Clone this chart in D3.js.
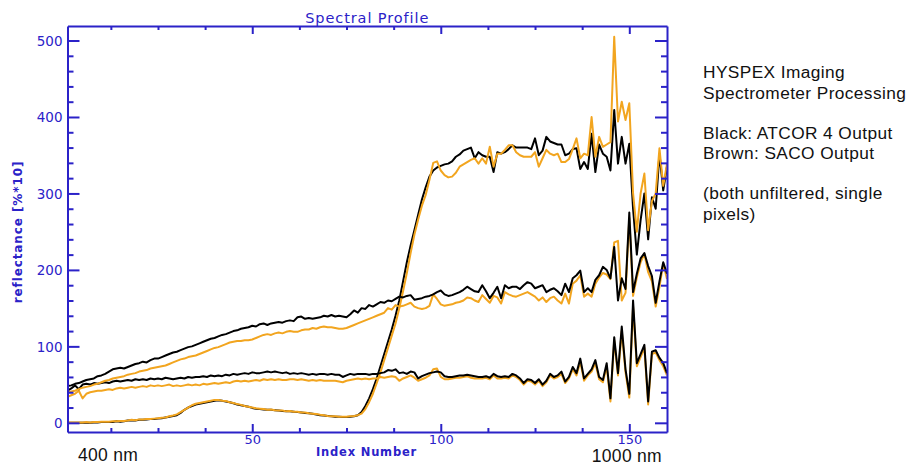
<!DOCTYPE html>
<html><head><meta charset="utf-8">
<script src="https://cdn.jsdelivr.net/npm/d3@7"></script>
<style>
html,body{margin:0;padding:0;background:#fff;}
svg{display:block;}
</style></head>
<body>
<svg id="c" width="916" height="466"></svg>
<script>
// Index numbers 1..160
const indexNumbers = d3.range(1, 161);

// Vegetation-like pixel (red edge)
const vegBlack = [
0,0,0,0,0,0,0,0.5,0.5,1,
1,1,1,2,1.5,2,3,3.5,3,4,
4,4.5,5,5,5.5,6,7,8,9,10,
13,17,20,22,24,25,26,27,28,29,
29.5,29,28,27,25.5,24,23,22,21,19.5,
18.5,18,17.5,17,17,16.5,16,15.5,15,15,
14.5,14,13.5,13,12.5,12,11,10,9.5,9,
8.5,8,8,7.5,7.5,8,8.5,10,14,22,
32,44,58,74,90,106,122,140,160,185,
210,232,252,272,292,308,322,330,334,336,
338,339,342,348,351,356,358,360,346,354,
350,348,348,328,354,352,354,358,363,360,
360,360,360,358,372,350,356,374,368,366,
364,364,350,352,358,359,332,341,332,378,
328,364,352,348,330,409,339,374,339,365,
280,220,265,300,240,295,280,352,304,335];
const vegOrange = [
0.5,0.5,0.5,0.5,0.5,1,0.5,1,1,1.5,
1.5,1.5,2,2,2.5,2.5,3,4,3.5,4.5,
4.5,5,5,5.5,6,6.5,7,8.5,9.5,11,
14,17,20,23,25,26,27,28,29,30,
30,29,28.5,27,26,24.5,23.5,22,21,20,
19,18.5,18,17,17.5,16.5,16,16,15,15.5,
14.5,14.5,13.5,13.5,12.5,12,11.5,10.5,10,9,
8.5,8.5,8,8,8,8.5,9,10,12,18,
27,38,52,66,82,98,114,130,150,172,
196,222,246,266,284,298,318,340,342,330,
324,321,322,327,335,338,341,344,346,339,
346,339,361,335,352,352,357,363,363,354,
350,348,348,348,354,335,346,357,352,350,
352,341,341,345,358,372,346,352,350,400,
348,374,361,364,367,505,394,420,396,418,
300,250,300,326,252,290,300,359,310,339];

// Upper smooth pixel
const upperBlack = [
48,49,51,52,54,56,57,58,61,62,
64,67,70,71,72,71,73,75,77,78,
80,79,82,84,84,86,88,90,92,93,
95,97,99,100,102,104,106,108,110,111,
113,115,116,118,120,121,123,124,125,127,
126,129,130,128,130,131,132,131,133,134,
133,138,139,136,137,136,137,138,140,139,
141,139,140,139,138,142,147,144,150,149,
154,152,155,158,157,160,159,162,165,164,
166,167,161,162,163,165,166,168,171,173,
168,166,167,169,171,174,178,175,172,171,
180,172,163,170,178,163,180,176,178,178,
175,180,184,182,176,178,180,171,174,176,
172,167,182,171,189,193,199,171,176,171,
187,193,204,200,189,230,160,189,175,275,
171,195,215,222,205,192,157,185,210,195];
const upperOrange = [
40,41,42,44,46,47,48,50,51,53,
55,56,58,59,60,61,63,64,65,67,
68,69,71,72,73,74,75,77,79,81,
83,84,86,87,88,90,92,94,96,98,
99,101,103,105,106,107,107,108,108,109,
111,113,115,116,115,117,118,117,119,120,
119,119,121,122,122,124,123,125,126,125,
125,124,123,123,124,126,128,130,132,134,
136,138,140,142,144,150,148,154,152,153,
155,157,152,150,149,150,153,168,162,155,
153,154,155,157,158,160,164,163,160,158,
167,162,157,166,164,156,171,168,166,165,
167,169,171,168,165,160,164,158,163,165,
160,156,169,156,182,186,193,165,169,165,
182,190,196,194,188,236,238,160,170,268,
166,190,210,221,197,185,152,178,208,188];

// Lower flat pixel
const lowerBlack = [
42,45,49,44,50,51,50,52,51,52,
53,52,54,55,54,55,56,55,57,56,
57,56,58,57,58,57,59,58,57,58,
59,58,60,59,60,60,61,60,62,61,
62,61,63,62,64,63,64,65,64,66,
65,65,66,67,66,67,66,65,66,64,
65,64,65,64,63,64,63,64,64,63,
64,63,63,60,62,64,63,64,64,64,
63,64,64,65,66,69,68,70,65,66,
64,67,66,58,61,63,65,66,67,66,
61,60,60,61,62,62,63,62,61,60,
60,61,59,64,61,60,61,60,64,62,
58,52,57,56,52,57,50,55,64,60,
62,67,54,60,73,65,84,58,64,70,
82,60,56,78,32,112,65,126,70,38,
160,78,90,102,28,93,95,85,78,65];
const lowerOrange = [
34,36,38,42,32,38,40,41,42,42,
43,44,43,45,46,45,46,47,46,47,
48,47,49,48,49,48,49,50,48,49,
48,49,50,49,50,49,51,50,51,52,
51,52,53,52,54,55,54,55,54,55,
56,55,57,56,57,56,57,56,56,57,
57,56,57,56,55,56,55,56,55,55,
55,55,54,53,55,56,57,58,57,58,
57,58,58,60,59,60,61,60,55,58,
60,62,59,55,57,59,62,70,71,60,
57,57,58,59,59,60,61,59,58,58,
58,59,57,62,58,58,59,58,62,60,
56,50,55,54,50,55,48,53,62,58,
60,64,52,58,70,62,80,55,62,67,
78,57,53,74,28,108,62,120,66,33,
152,74,86,98,24,90,92,82,74,62];

const yMajorTicks = [0, 100, 200, 300, 400, 500];
const xMajorTicks = [50, 100, 150];
const noteLines = ["HYSPEX Imaging", "Spectrometer Processing", "", "Black: ATCOR 4 Output", "Brown: SACO Output", "", "(both unfiltered, single", "pixels)"];

const BLUE = "#2b22c8";
const ORANGE = "#f2a51f";
const svg = d3.select("#c");
const L = 67.5, R = 667, T = 26, B = 432;
const x = d3.scaleLinear().domain([1, 160]).range([L, R]);
const y = d3.scaleLinear().domain([-12, 519]).range([B, T]);

svg.append("clipPath").attr("id", "clp").append("rect")
  .attr("x", L).attr("y", T).attr("width", R - L).attr("height", B - T);

const line = d3.line().x((d, i) => x(indexNumbers[i])).y(d => y(d));
const series = [
  [vegBlack, "#000"], [vegOrange, ORANGE],
  [lowerOrange, ORANGE], [lowerBlack, "#000"],
  [upperOrange, ORANGE], [upperBlack, "#000"]
];
const lines = svg.append("g").attr("clip-path", "url(#clp)");
series.forEach(([data, col]) => {
  lines.append("path").attr("d", line(data)).attr("fill", "none")
    .attr("stroke", col).attr("stroke-width", 2).attr("stroke-linejoin", "round");
});

const yMinor = d3.range(0, 520, 20).filter(v => v % 100 !== 0);
const xMinor = d3.range(12.5, 160, 12.5).filter(v => v % 50 !== 0);

function styleAxis(sel) {
  sel.selectAll("path.domain").attr("stroke", BLUE).attr("stroke-width", 2);
  sel.selectAll(".tick line").attr("stroke", BLUE).attr("stroke-width", 2);
  sel.selectAll(".tick text").attr("fill", BLUE);
}
const gl = svg.append("g").attr("transform", `translate(${L},0)`)
  .call(d3.axisLeft(y).tickValues(yMajorTicks).tickSizeInner(-12).tickSizeOuter(0).tickPadding(5));
gl.selectAll("text").attr("font-family", "DejaVu Sans").attr("font-size", 13.5).attr("dy", "0.36em");
styleAxis(gl);
const glm = svg.append("g").attr("transform", `translate(${L},0)`)
  .call(d3.axisLeft(y).tickValues(yMinor).tickSizeInner(-6).tickSizeOuter(0).tickFormat(""));
glm.select("path.domain").remove(); styleAxis(glm);
const gr = svg.append("g").attr("transform", `translate(${R},0)`)
  .call(d3.axisRight(y).tickValues(yMajorTicks).tickSizeInner(-12).tickSizeOuter(0).tickFormat(""));
styleAxis(gr);
const grm = svg.append("g").attr("transform", `translate(${R},0)`)
  .call(d3.axisRight(y).tickValues(yMinor).tickSizeInner(-6).tickSizeOuter(0).tickFormat(""));
grm.select("path.domain").remove(); styleAxis(grm);
const gb = svg.append("g").attr("transform", `translate(0,${B})`)
  .call(d3.axisBottom(x).tickValues(xMajorTicks).tickSizeInner(-8).tickSizeOuter(0).tickPadding(3));
gb.selectAll("text").attr("font-family", "DejaVu Sans").attr("font-size", 13);
styleAxis(gb);
const gbm = svg.append("g").attr("transform", `translate(0,${B})`)
  .call(d3.axisBottom(x).tickValues(xMinor).tickSizeInner(-4).tickSizeOuter(0).tickFormat(""));
gbm.select("path.domain").remove(); styleAxis(gbm);
const gt = svg.append("g").attr("transform", `translate(0,${T})`)
  .call(d3.axisTop(x).tickValues(xMajorTicks).tickSizeInner(-8).tickSizeOuter(0).tickFormat(""));
styleAxis(gt);
const gtm = svg.append("g").attr("transform", `translate(0,${T})`)
  .call(d3.axisTop(x).tickValues(xMinor).tickSizeInner(-4).tickSizeOuter(0).tickFormat(""));
gtm.select("path.domain").remove(); styleAxis(gtm);

svg.append("text").attr("x", (L + R) / 2).attr("y", 22.5).attr("text-anchor", "middle")
  .attr("font-family", "DejaVu Sans").attr("font-size", 14.5).attr("letter-spacing", 0.9)
  .attr("fill", BLUE).text("Spectral  Profile");
svg.append("text").attr("x", 366.5).attr("y", 455.5).attr("text-anchor", "middle")
  .attr("font-family", "DejaVu Sans").attr("font-weight", "bold").attr("font-size", 11.5).attr("letter-spacing", 0.8)
  .attr("fill", BLUE).text("Index  Number");
svg.append("text").attr("transform", `translate(22,${(T + B) / 2 + 3}) rotate(-90)`).attr("text-anchor", "middle")
  .attr("font-family", "DejaVu Sans").attr("font-weight", "bold").attr("font-size", 12).attr("letter-spacing", 0.9)
  .attr("fill", BLUE).text("reflectance [%*10]");

svg.append("text").attr("x", 78).attr("y", 461).attr("font-family", "Liberation Sans")
  .attr("font-size", 17.5).attr("letter-spacing", 0.3).attr("fill", "#111").text("400 nm");
svg.append("text").attr("x", 662).attr("y", 462).attr("text-anchor", "end").attr("font-family", "Liberation Sans")
  .attr("font-size", 17.5).attr("letter-spacing", 0.3).attr("fill", "#111").text("1000 nm");

const note = svg.append("text").attr("font-family", "Liberation Sans").attr("font-size", 17.3)
  .attr("letter-spacing", 0.4).attr("fill", "#111");
noteLines.forEach((t, i) => {
  note.append("tspan").attr("x", 703).attr("y", 78 + i * 20.8 + (i >= 3 ? -1.8 : 0) + (i >= 6 ? -2 : 0)).text(t);
});
</script>
</body></html>
